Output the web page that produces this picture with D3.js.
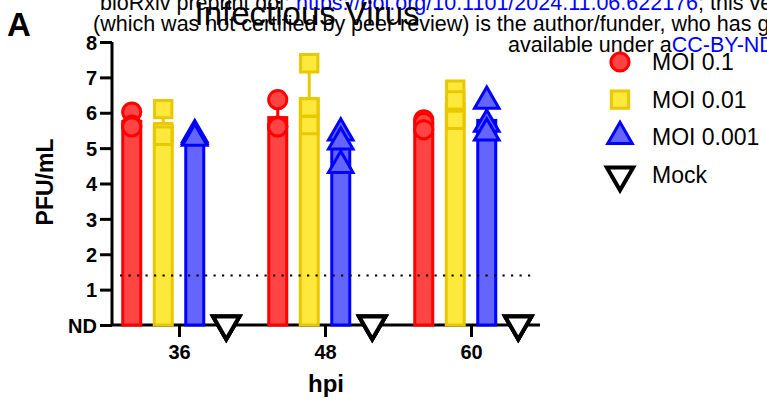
<!DOCTYPE html>
<html>
<head>
<meta charset="utf-8">
<script src="https://cdn.jsdelivr.net/npm/d3@7"></script>
<style>
  body { margin: 0; background: #fff; }
  svg { display: block; font-family: "Liberation Sans", Arial, sans-serif; }
</style>
</head>
<body>
<svg id="svg" width="767" height="408"></svg>
<script>
// time points (hpi) and the series drawn at each one
let hpi = [36, 48, 60];
let series = ["MOI 0.1", "MOI 0.01", "MOI 0.001", "Mock"];
let yTicks = [0, 1, 2, 3, 4, 5, 6, 7, 8];
let yTickLabels = ["ND", "1", "2", "3", "4", "5", "6", "7", "8"];
let limitOfDetection = 1.4;

// replicate titers, log10 PFU/mL (0 = ND), one array per hpi
let moi01 = [[6.02, 5.65, 5.6], [6.37, 5.62, 5.6], [5.8, 5.72, 5.52]];
let moi001 = [[6.1, 5.45, 5.35], [7.4, 6.15, 5.65], [6.65, 6.35, 5.8]];
let moi0001 = [[5.35, 5.3, 5.25], [5.4, 5.15, 4.48], [6.3, 5.65, 5.4]];
let mock = [[0, 0, 0], [0, 0, 0], [0, 0, 0]];

let seriesValues = [moi01, moi001, moi0001, mock];
let strokeColors = ["#ff0000", "#e8c800", "#0000ff", "#000000"];
let fillColors = ["#ff4444", "#ffe83c", "#6464ff", "#ffffff"];
let shapes = [d3.symbolCircle, d3.symbolSquare, d3.symbolTriangle, d3.symbolTriangle];

let svg = d3.select("#svg");

let x = d3.scaleLinear().domain([36, 60]).range([179, 471]);
let xSeries = d3.scaleBand().domain(series).range([-63, 63]);
let y = d3.scaleLinear().domain([0, 8]).range([325, 42]);

//Watermark header lines (bioRxiv)
let head = svg.append("g").style("font-size", "21.5px").attr("fill", "#000");
let l1 = head.append("text").attr("x", 100).attr("y", 10);
l1.append("tspan").text("bioRxiv preprint doi: ");
l1.append("tspan").attr("fill", "#0000ff").text("https://doi.org/10.1101/2024.11.06.622176");
l1.append("tspan").text("; this version posted November 7, 2024.");
head.append("text").attr("x", 93).attr("y", 31)
    .text("(which was not certified by peer review) is the author/funder, who has granted bioRxiv");
let l3 = head.append("text").attr("x", 508).attr("y", 52);
l3.append("tspan").text("available under a");
l3.append("tspan").attr("fill", "#0000ff").text("CC-BY-ND 4.0");

//Panel letter and title
svg.append("text").attr("x", 7).attr("y", 36)
    .style("font-size", "33px").style("font-weight", "bold").text("A");
svg.append("text").attr("x", 307).attr("y", 25).attr("text-anchor", "middle")
    .style("font-size", "33px").text("Infectious Virus");

let plot = svg.append("g");

//Bars (mean), error bars (mean + SD) and replicate points
seriesValues.forEach(function (vals, s) {
    hpi.forEach(function (h, i) {
        let pts = vals[i];
        let mean = d3.mean(pts);
        let sd = d3.deviation(pts) || 0;
        let cx = x(h) + xSeries(series[s]) + xSeries.bandwidth() / 2;
        if (mean > 0) {
            plot.append("rect")
                .attr("x", cx - 9)
                .attr("width", 18)
                .attr("y", y(mean))
                .attr("height", y(0) - y(mean))
                .attr("fill", fillColors[s])
                .attr("stroke", strokeColors[s])
                .attr("stroke-width", 3);
            plot.append("line")
                .attr("x1", cx).attr("x2", cx)
                .attr("y1", y(mean)).attr("y2", y(mean + sd))
                .attr("stroke", strokeColors[s]).attr("stroke-width", 3);
            plot.append("line")
                .attr("x1", cx - 6).attr("x2", cx + 6)
                .attr("y1", y(mean + sd)).attr("y2", y(mean + sd))
                .attr("stroke", strokeColors[s]).attr("stroke-width", 3);
        }
    });
});

//Limit of detection
plot.append("line")
    .attr("x1", 120).attr("x2", 532)
    .attr("y1", y(limitOfDetection)).attr("y2", y(limitOfDetection))
    .attr("stroke", "#000").attr("stroke-width", 2.2)
    .attr("stroke-dasharray", "2.2,6.3");

function drawSymbol(g, s, px, py) {
    let size = [260, 300, 260, 300][s];
    let sym = g.append("path")
        .attr("d", d3.symbol().type(shapes[s]).size(size)())
        .attr("fill", fillColors[s])
        .attr("stroke", strokeColors[s])
        .attr("stroke-width", s == 3 ? 4 : 3);
    if (s == 3) sym.attr("transform", "translate(" + px + "," + py + ") rotate(180)");
    else if (s == 2) sym.attr("transform", "translate(" + px + "," + (py - 1) + ")");
    else sym.attr("transform", "translate(" + px + "," + py + ")");
    return sym;
}

//Axes (drawn before points so points sit over the baseline)
let yAxis = svg.append("g")
    .attr("transform", "translate(112,0)")
    .call(d3.axisLeft(y).tickValues(yTicks).tickSize(12).tickPadding(3)
        .tickFormat(function (d, i) { return yTickLabels[i]; }));
let xAxis = svg.append("g")
    .attr("transform", "translate(0,325)")
    .call(d3.axisBottom(x).tickValues(hpi).tickSize(12).tickPadding(8).tickFormat(d3.format("d")));
xAxis.select(".domain").attr("d", "M112,0H540");
yAxis.select(".domain").attr("d", "M0,325V42");
[xAxis, yAxis].forEach(function (a) {
    a.selectAll(".domain, .tick line").attr("stroke", "#000").attr("stroke-width", 3);
    a.selectAll(".tick text").attr("fill", "#000")
        .style("font-size", "20px").style("font-weight", "bold")
        .style("font-family", "'Liberation Sans', Arial, sans-serif");
});
yAxis.selectAll(".tick text").attr("dy", "0.36em");

//Replicate points
seriesValues.forEach(function (vals, s) {
    hpi.forEach(function (h, i) {
        let cx = x(h) + xSeries(series[s]) + xSeries.bandwidth() / 2;
        vals[i].forEach(function (v) {
            drawSymbol(plot, s, cx, s == 3 ? y(v) - 1 : y(v));
        });
    });
});
plot.raise();

//Axis titles
svg.append("text")
    .attr("transform", "translate(53,182) rotate(-90)")
    .attr("text-anchor", "middle")
    .style("font-size", "23px").style("font-weight", "bold")
    .text("PFU/mL");
svg.append("text")
    .attr("x", 326).attr("y", 392)
    .attr("text-anchor", "middle")
    .style("font-size", "24px").style("font-weight", "bold")
    .text("hpi");

//Legend
let legend = svg.append("g");
series.forEach(function (name, s) {
    let ly = 62 + s * 37.7;
    drawSymbol(legend, s, 620, ly);
    legend.append("text")
        .attr("x", 652).attr("y", ly + 8)
        .style("font-size", "23px")
        .text(name);
});
</script>
</body>
</html>
